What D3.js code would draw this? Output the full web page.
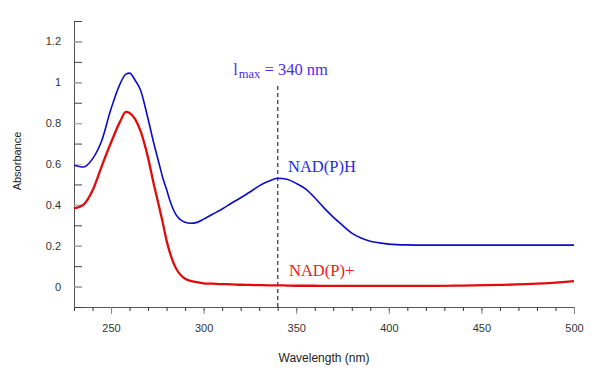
<!DOCTYPE html>
<html>
<head>
<meta charset="utf-8">
<script src="https://cdn.jsdelivr.net/npm/d3@7"></script>
<style>
  body { margin: 0; background: #fff; }
  svg text { font-family: "Liberation Sans", Arial, Helvetica, sans-serif; }
  .serif { font-family: "Liberation Serif", "Times New Roman", serif; }
</style>
</head>
<body>
<div id="chart"></div>
<script>
// spectra (nm -> absorbance)
var wavelengths = [230, 235, 240, 245, 250, 255, 258, 260, 263, 266, 270, 273, 276, 278, 280, 282, 284, 286, 288, 290, 293, 296,
  300, 305, 310, 315, 320, 325, 330, 335, 340, 345, 350, 355, 360, 365, 370, 375, 380, 385, 390, 395,
  400, 410, 420, 440, 460, 480, 500];
var nadph = [0.595, 0.585, 0.625, 0.715, 0.87, 0.995, 1.04, 1.045, 1.01, 0.96, 0.82, 0.705, 0.60, 0.53, 0.475, 0.415, 0.37, 0.34, 0.324, 0.315, 0.31, 0.313,
  0.33, 0.355, 0.38, 0.408, 0.435, 0.463, 0.493, 0.515, 0.53, 0.525, 0.505, 0.478, 0.435, 0.385, 0.34, 0.30, 0.262, 0.238, 0.222, 0.214,
  0.208, 0.204, 0.203, 0.203, 0.203, 0.203, 0.203];
var nadp = [0.383, 0.40, 0.47, 0.59, 0.705, 0.81, 0.855, 0.85, 0.82, 0.76, 0.63, 0.505, 0.39, 0.31, 0.225, 0.16, 0.11, 0.075, 0.053, 0.038, 0.028, 0.022,
  0.016, 0.014, 0.012, 0.011, 0.009, 0.008, 0.007, 0.006, 0.006, 0.005, 0.004, 0.004, 0.004, 0.003, 0.003, 0.003, 0.003, 0.003, 0.003, 0.003,
  0.003, 0.003, 0.003, 0.005, 0.008, 0.014, 0.027];
var xTicks = [250, 300, 350, 400, 450, 500];
var yTicks = [0, 0.2, 0.4, 0.6, 0.8, 1, 1.2];
var lambdaMax = 340;

var W = 602, H = 374;
var margin = {top: 21, right: 28, bottom: 67, left: 74},
    width = W - margin.left - margin.right,
    height = H - margin.top - margin.bottom;

var svg = d3.select('#chart')
  .append('svg')
  .attr('width', W)
  .attr('height', H)
  .append('g')
  .attr('transform', 'translate(' + margin.left + ',' + margin.top + ')');

var x = d3.scaleLinear().domain([230, 500]).range([0, width]);
var y = d3.scaleLinear().domain([-0.1, 1.3]).range([height, 0]);

// x axis: minor every 10, major every 50
var xMinor = svg.append('g')
  .attr('transform', 'translate(0,' + height + ')')
  .call(d3.axisBottom(x).tickValues(d3.range(230, 501, 10)).tickSize(4).tickSizeOuter(0).tickFormat(''));
xMinor.select('.domain').attr('stroke', '#555');
xMinor.selectAll('.tick line').attr('stroke', '#333');

var xMajor = svg.append('g')
  .attr('transform', 'translate(0,' + height + ')')
  .call(d3.axisBottom(x).tickValues(xTicks).tickSize(7).tickPadding(10).tickSizeOuter(0));
xMajor.select('.domain').remove();
xMajor.selectAll('.tick line').attr('stroke', '#888');
xMajor.selectAll('.tick text').attr('fill', '#333').style('font-size', '11px');

// y axis: ticks pointing inward
var yMinor = svg.append('g')
  .call(d3.axisLeft(y).tickValues(d3.range(-1, 14).map(function(d) { return d / 10; }))
    .tickSize(-8).tickSizeOuter(0).tickFormat(''));
yMinor.select('.domain').attr('stroke', '#555');
yMinor.selectAll('.tick line').attr('stroke', '#444');

var yMajor = svg.append('g')
  .call(d3.axisLeft(y).tickValues(yTicks).tickSize(-8).tickPadding(13).tickSizeOuter(0).tickFormat(d3.format('')));
yMajor.select('.domain').remove();
yMajor.selectAll('.tick line').attr('stroke', '#bbb');
yMajor.selectAll('.tick text').attr('fill', '#333').style('font-size', '11px');

// axis titles
svg.append('text')
  .attr('x', width / 2)
  .attr('y', 341)
  .attr('text-anchor', 'middle')
  .attr('fill', '#222')
  .style('font-size', '12px')
  .text('Wavelength (nm)');

svg.append('text')
  .attr('transform', 'translate(' + (-53) + ',' + (height / 2 - 3) + ') rotate(-90)')
  .attr('text-anchor', 'middle')
  .attr('fill', '#222')
  .style('font-size', '11px')
  .text('Absorbance');

// lambda max marker
svg.append('line')
  .attr('x1', x(lambdaMax)).attr('x2', x(lambdaMax))
  .attr('y1', 65).attr('y2', height)
  .attr('stroke', '#555')
  .attr('stroke-width', 1.5)
  .attr('stroke-dasharray', '4,3');

var lab = svg.append('text')
  .attr('class', 'serif')
  .attr('x', x(lambdaMax) - 44.5)
  .attr('y', 54)
  .attr('fill', '#4b2bee')
  .style('font-size', '16.5px');
lab.append('tspan').text('l');
lab.append('tspan').attr('dx', 1).attr('dy', 3).style('font-size', '12.5px').text('max');
lab.append('tspan').attr('dy', -3).text(' = ' + lambdaMax + ' nm');

// spectra
var rows = wavelengths.map(function(w, i) { return {w: w, h: nadph[i], p: nadp[i]}; });

var lineH = d3.line()
  .x(function(d) { return x(d.w); })
  .y(function(d) { return y(d.h); })
  .curve(d3.curveMonotoneX);

var lineP = d3.line()
  .x(function(d) { return x(d.w); })
  .y(function(d) { return y(d.p); })
  .curve(d3.curveMonotoneX);

svg.append('path')
  .datum(rows)
  .attr('fill', 'none')
  .attr('stroke', '#e00c0c')
  .attr('stroke-width', 2.3)
  .attr('d', lineP);

svg.append('path')
  .datum(rows)
  .attr('fill', 'none')
  .attr('stroke', '#0c0cc8')
  .attr('stroke-width', 1.6)
  .attr('d', lineH);

// series labels
svg.append('text')
  .attr('class', 'serif')
  .attr('x', 214)
  .attr('y', 150.5)
  .attr('fill', '#2a2ae8')
  .style('font-size', '16.5px')
  .text('NAD(P)H');

svg.append('text')
  .attr('class', 'serif')
  .attr('x', 215)
  .attr('y', 254.5)
  .attr('fill', '#f01818')
  .style('font-size', '16.5px')
  .text('NAD(P)+');
</script>
</body>
</html>
